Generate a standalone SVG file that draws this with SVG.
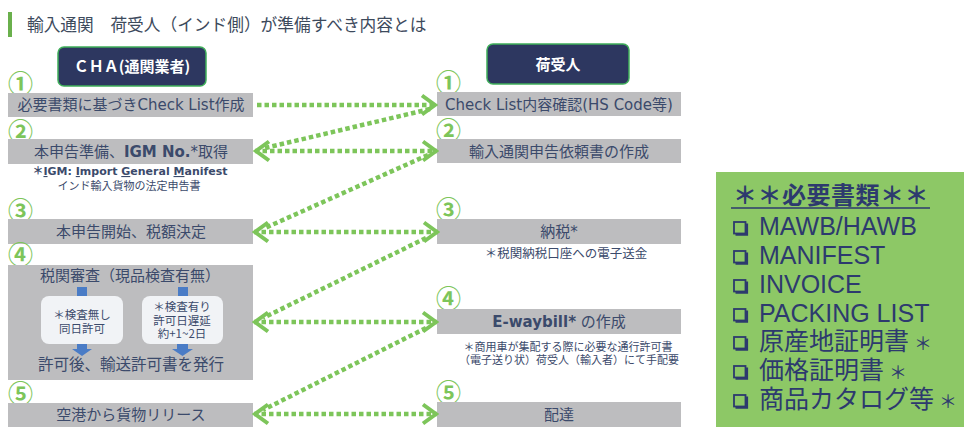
<svg xmlns="http://www.w3.org/2000/svg" width="964" height="427" viewBox="0 0 964 427">
<defs>
<style>
.bg{fill:#ffffff}
.box{fill:#bdbdbf}
.t{font-family:"DejaVu Sans","Noto Sans CJK JP",sans-serif;fill:#3b4a6b;text-anchor:middle}
.j{font-family:"Noto Sans CJK JP",sans-serif;fill:#3b4a6b;text-anchor:middle}
.num{font-family:"Noto Sans CJK JP",sans-serif;font-size:25px;font-weight:700;fill:#7dc55a}
.hdr{fill:#2d3760;stroke:#3fae5a;stroke-width:1.5}
.hdrt{font-family:"Noto Sans CJK JP",sans-serif;font-weight:700;font-size:15px;fill:#ffffff;text-anchor:middle}
.wbox{fill:#f1f3f6}
.blue{fill:#4a7cc6}
.conn path{fill:none;stroke:#7dc55a;stroke-width:4.5;stroke-dasharray:4.5 3}
.doc{font-family:"Liberation Sans","Noto Sans CJK JP",sans-serif;font-size:25px;fill:#2d3a6e}
.ast{font-family:"Noto Sans CJK JP",sans-serif;font-size:18px;fill:#2d3a6e}
</style>
<marker id="ah" viewBox="-18 -12 20 24" refX="0" refY="0" markerWidth="20" markerHeight="24" markerUnits="userSpaceOnUse" orient="auto-start-reverse">
<path d="M-14,-9.5 L-1,0 L-14,9.5" fill="none" stroke="#7dc55a" stroke-width="4" stroke-dasharray="none"/>
</marker>
<g id="cbx">
<rect x="1" y="1" width="11.5" height="11.5" fill="none" stroke="#2d3a6e" stroke-width="1.8"/>
<path d="M2.5,13.5 H13.8 V2.5" fill="none" stroke="#2d3a6e" stroke-width="2.6"/>
</g>
</defs>
<rect class="bg" x="0" y="0" width="964" height="427"/>

<g id="title">
<rect x="8" y="12" width="4" height="25" fill="#6ab04c"/>
<text x="27" y="31" font-family="'Noto Sans CJK JP',sans-serif" font-size="16.7" fill="#3d4a5c">輸入通関　荷受人（インド側）が準備すべき内容とは</text>
</g>

<g id="hdr-cha">
<rect class="hdr" x="58" y="47" width="148" height="39" rx="6"/>
<text class="hdrt" x="132" y="72">ＣＨＡ(通関業者)</text>
</g>
<g id="hdr-consignee">
<rect class="hdr" x="487" y="44" width="142" height="40" rx="6"/>
<text class="hdrt" x="558" y="70">荷受人</text>
</g>

<g id="cha1">
<text class="num" x="8" y="93">①</text>
<rect class="box" x="8" y="93" width="245" height="24"/>
<text class="t" x="131" y="110" font-size="15">必要書類に基づきCheck List作成</text>
</g>
<g id="cha2">
<text class="num" x="8" y="141">②</text>
<rect class="box" x="8" y="139" width="245" height="25"/>
<text class="t" x="131" y="157" font-size="15">本申告準備、<tspan font-weight="700">IGM No.</tspan>*取得</text>
<text class="t" x="130" y="175" font-size="11" font-weight="700">＊<tspan text-decoration="underline">I</tspan>GM: <tspan text-decoration="underline">I</tspan>mport <tspan text-decoration="underline">G</tspan>eneral <tspan text-decoration="underline">M</tspan>anifest</text>
<text class="j" x="129" y="190" font-size="11">インド輸入貨物の法定申告書</text>
</g>
<g id="cha3">
<text class="num" x="8" y="220">③</text>
<rect class="box" x="8" y="219" width="245" height="25"/>
<text class="t" x="131" y="237" font-size="15">本申告開始、税額決定</text>
</g>
<g id="cha4">
<text class="num" x="8" y="264">④</text>
<rect class="box" x="8" y="265" width="245" height="115"/>
<text class="j" x="130" y="281" font-size="15">税関審査（現品検査有無）</text>
<rect class="blue" x="77" y="287" width="10" height="9"/>
<rect class="blue" x="178" y="287" width="10" height="9"/>
<rect class="wbox" x="41" y="296" width="82" height="48" rx="8"/>
<rect class="wbox" x="142" y="296" width="81" height="48" rx="8"/>
<text class="j" x="82" y="318.5" font-size="11.5">＊検査無し</text>
<text class="j" x="82" y="332.5" font-size="11.5">同日許可</text>
<text class="j" x="182" y="311" font-size="11.5">＊検査有り</text>
<text class="j" x="182" y="324.7" font-size="11.5">許可日遅延</text>
<text class="j" x="182" y="338.4" font-size="11.5">約+1~2日</text>
<path class="blue" d="M77,344 H87 V349 H92 L82,356 L72,349 H77 Z"/>
<path class="blue" d="M177,344 H188 V349 H193 L182.5,356 L172,349 H177 Z"/>
<text class="j" x="131" y="370" font-size="15.5">許可後、輸送許可書を発行</text>
</g>
<g id="cha5">
<text class="num" x="8" y="403">⑤</text>
<rect class="box" x="8" y="403" width="245" height="24"/>
<text class="t" x="131" y="420" font-size="15">空港から貨物リリース</text>
</g>

<g id="con1">
<text class="num" x="436" y="92">①</text>
<rect class="box" x="437" y="92" width="244" height="24"/>
<text class="t" x="559" y="110" font-size="15">Check List内容確認(HS Code等)</text>
</g>
<g id="con2">
<text class="num" x="436" y="140">②</text>
<rect class="box" x="437" y="139" width="244" height="24"/>
<text class="j" x="559" y="157" font-size="15">輸入通関申告依頼書の作成</text>
</g>
<g id="con3">
<text class="num" x="436" y="219">③</text>
<rect class="box" x="437" y="219" width="244" height="25"/>
<text class="t" x="559" y="237" font-size="15">納税*</text>
<text class="j" x="566" y="258" font-size="12.5">＊税関納税口座への電子送金</text>
</g>
<g id="con4">
<text class="num" x="436" y="308">④</text>
<rect class="box" x="437" y="309" width="244" height="25"/>
<text class="t" x="559" y="327" font-size="15"><tspan font-weight="700">E-waybill*</tspan> の作成</text>
<text class="j" x="568" y="350.5" font-size="11">＊商用車が集配する際に必要な通行許可書</text>
<text class="j" x="569" y="364" font-size="11">（電子送り状）荷受人（輸入者）にて手配要</text>
</g>
<g id="con5">
<text class="num" x="436" y="402">⑤</text>
<rect class="box" x="437" y="402" width="244" height="25"/>
<text class="t" x="559" y="420" font-size="15">配達</text>
</g>

<g id="connectors" class="conn">
<path d="M257,105 H436" marker-end="url(#ah)"/>
<path d="M430,109 L265,148"/>
<path d="M255,151 H437" marker-start="url(#ah)" marker-end="url(#ah)"/>
<path d="M428,155 L265,228"/>
<path d="M254,232 H438" marker-start="url(#ah)" marker-end="url(#ah)"/>
<path d="M426,238 L263,318"/>
<path d="M254,322 H437" marker-start="url(#ah)" marker-end="url(#ah)"/>
<path d="M426,328 L263,410"/>
<path d="M254,414 H437" marker-start="url(#ah)" marker-end="url(#ah)"/>
</g>

<g id="docs">
<rect x="716" y="172" width="248" height="255" fill="#8dc866"/>
<text x="733" y="204" font-family="'Noto Sans CJK JP',sans-serif" font-size="24" font-weight="700" fill="#2d3a6e" letter-spacing="0.5">＊＊必要書類＊＊</text>
<line x1="731" y1="208" x2="930" y2="208" stroke="#2d3a6e" stroke-width="1.5"/>
<use href="#cbx" x="733" y="221"/>
<use href="#cbx" x="733" y="250"/>
<use href="#cbx" x="733" y="279"/>
<use href="#cbx" x="733" y="308"/>
<use href="#cbx" x="733" y="336"/>
<use href="#cbx" x="733" y="365"/>
<use href="#cbx" x="733" y="394"/>
<text class="doc" x="759" y="235">MAWB/HAWB</text>
<text class="doc" x="759" y="264">MANIFEST</text>
<text class="doc" x="759" y="293">INVOICE</text>
<text class="doc" x="759" y="322">PACKING LIST</text>
<text class="doc" x="759" y="350" font-size="23.5">原産地証明書<tspan class="ast" dx="5">＊</tspan></text>
<text class="doc" x="759" y="379" font-size="23.5">価格証明書<tspan class="ast" dx="5">＊</tspan></text>
<text class="doc" x="759" y="408" font-size="23.5">商品カタログ等<tspan class="ast" dx="5">＊</tspan></text>
</g>
</svg>
